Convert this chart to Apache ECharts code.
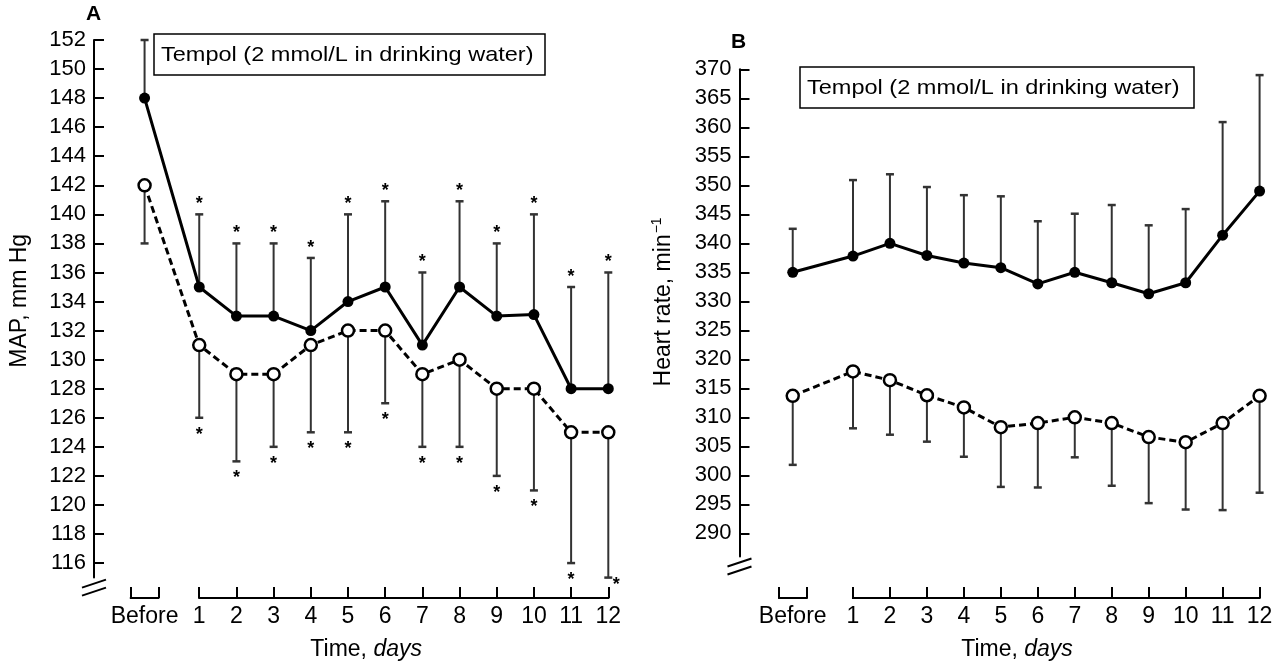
<!DOCTYPE html>
<html>
<head>
<meta charset="utf-8">
<script src="https://cdn.jsdelivr.net/npm/echarts@6/dist/echarts.min.js"></script>
<style>
html,body{margin:0;padding:0;background:#fff;}
#chart{width:1278px;height:668px;}
</style>
</head>
<body>
<div id="chart"></div>
<script>
// ---------------- DATA ----------------
const timeLabels = ['Before','1','2','3','4','5','6','7','8','9','10','11','12'];
const dayValues = [1,2,3,4,5,6,7,8,9,10,11,12];

// Panel A: MAP, mm Hg
const mapSolidMean  = [148,135,133,133,132,134,135,131,135,133,133.1,128,128];
const mapSolidUpper = [152,140,138,138,137,140,140.9,136,140.9,138,140,135,136];
const mapOpenMean   = [142,131,129,129,131,132,132,129,130,128,128,125,125];
const mapOpenLower  = [138,126,123,124,125,125,127,124,124,122,121,116,115];
// significance stars: 0 none, 1 star beyond the bar end, 2 star to the right
const mapSolidStars = [0,1,1,1,1,1,1,1,1,1,1,1,1];
const mapOpenStars  = [0,1,1,1,1,1,1,1,1,1,1,1,2];
const mapTicks = [116,118,120,122,124,126,128,130,132,134,136,138,140,142,144,146,148,150,152];

// Panel B: Heart rate, min^-1
const hrSolidMean  = [335,337.8,340,337.9,336.6,335.8,333,335,333.2,331.3,333.2,341.4,349];
const hrSolidUpper = [342.5,350.9,351.9,349.7,348.3,348.1,343.8,345.1,346.6,343.1,345.9,360.9,369];
const hrOpenMean   = [313.7,317.9,316.4,313.8,311.7,308.3,309,310,309,306.6,305.7,309,313.7];
const hrOpenLower  = [301.8,308.1,307,305.8,303.2,298,297.9,303.1,298.2,295.2,294.1,294,297];
const hrTicks = [290,295,300,305,310,315,320,325,330,335,340,345,350,355,360,365,370];

const boxText = 'Tempol (2 mmol/L in drinking water)';

// ---------------- LAYOUT ----------------
const FONT = '"Liberation Sans", Arial, Helvetica, sans-serif';
const P = {
  A: {grid:{left:94, top:40, width:514.3, height:537.6}, xMin:-1.83, yMin:115, yMax:152,
      beforeX:-0.47, bracket:[-0.84,-0.10], xOffset:20.4, nameShift:30, yNameShift:16, yNameGap:63},
  B: {grid:{left:739.5, top:69.3, width:520.1, height:487.2}, xMin:-2.07, yMin:286, yMax:370,
      beforeX:-0.63, bracket:[-1.0,-0.25], xOffset:41.5, nameShift:35, yNameShift:22, yNameGap:63}
};

function xPos(p){ return [p.beforeX].concat(dayValues); }
function pairs(xs, ys){ return ys.map((v,i)=>[xs[i], v]); }
function errData(xs, means, ends, stars){ return means.map((m,i)=>[xs[i], m, ends[i], stars ? stars[i] : 0]); }

function errRender(params, api){
  const x = api.value(0), m = api.value(1), b = api.value(2), star = api.value(3);
  const p0 = api.coord([x, m]);
  const p1 = api.coord([x, b]);
  const up = b > m;
  const children = [
    {type:'line', shape:{x1:p0[0], y1:p0[1], x2:p1[0], y2:p1[1]}, style:{stroke:'#333', lineWidth:2}},
    {type:'line', shape:{x1:p1[0]-4, y1:p1[1], x2:p1[0]+4, y2:p1[1]}, style:{stroke:'#333', lineWidth:2.5}}
  ];
  if (star === 1) {
    children.push({type:'text', style:{text:'*', x:p1[0], y: up ? p1[1]-10 : p1[1]+17,
      font:'bold 18px ' + FONT, align:'center', verticalAlign:'middle', fill:'#000'}});
  } else if (star === 2) {
    children.push({type:'text', style:{text:'*', x:p1[0]+8, y:p1[1]+7,
      font:'bold 18px ' + FONT, align:'center', verticalAlign:'middle', fill:'#000'}});
  }
  return {type:'group', children};
}

function axisLineRender(p){
  return function(params, api){
    const a = api.coord([api.value(0), p.yMin]);
    const b = api.coord([api.value(1), p.yMin]);
    return {type:'line', shape:{x1:a[0]-1, y1:a[1]+p.xOffset, x2:b[0]+1, y2:b[1]+p.xOffset},
      style:{stroke:'#000', lineWidth:2}};
  };
}
function breakRender(p){
  return function(params, api){
    const c = api.coord([p.xMin, p.yMin]);
    const mk = (dy)=>({type:'line', shape:{x1:c[0]-12, y1:c[1]+dy+4, x2:c[0]+12, y2:c[1]+dy-4},
      style:{stroke:'#000', lineWidth:2}});
    return {type:'group', children:[mk(6), mk(14)]};
  };
}

function xAxisCfg(p, gi){
  const ticks = p.bracket.concat(dayValues);
  const labels = [p.beforeX].concat(dayValues);
  return {
    type:'value', gridIndex:gi, min:p.xMin, max:12, offset:p.xOffset,
    axisLine:{show:false, onZero:false}, splitLine:{show:false},
    axisTick:{show:true, inside:true, length:11, customValues:ticks, lineStyle:{color:'#000', width:2}},
    axisLabel:{show:true, customValues:labels, margin:7, fontSize:23, color:'#000', fontFamily:FONT,
      formatter:(v)=> v < 0 ? timeLabels[0] : timeLabels[Math.round(v)]},
    name:'{n|Time, }{i|days}', nameLocation:'middle', nameGap:40,
    nameTextStyle:{padding:[0,0,0,p.nameShift], rich:{
      n:{fontSize:23, fontFamily:FONT, color:'#000'},
      i:{fontSize:23, fontFamily:FONT, color:'#000', fontStyle:'italic'}}}
  };
}
function yAxisCfg(p, gi, ticks, name, rich){
  return {
    type:'value', gridIndex:gi, min:p.yMin, max:p.yMax, position:'left',
    axisLine:{show:true, onZero:false, lineStyle:{color:'#000', width:2}}, splitLine:{show:false},
    axisTick:{show:true, inside:true, length:10, customValues:ticks, lineStyle:{color:'#000', width:2}},
    axisLabel:{show:true, customValues:ticks, margin:8, fontSize:22, color:'#000', fontFamily:FONT},
    name:name, nameLocation:'middle', nameGap:p.yNameGap, nameRotate:90,
    nameTextStyle:{padding:[0,0,0,p.yNameShift], fontSize:23, fontFamily:FONT, color:'#000', rich:rich}
  };
}

const xA = xPos(P.A), xB = xPos(P.B);

const lineSolid = {type:'line', symbol:'circle', symbolSize:11, z:4, clip:false,
  lineStyle:{color:'#000', width:3}, itemStyle:{color:'#000'}};
const lineOpen = {type:'line', symbol:'circle', symbolSize:12, z:4, clip:false,
  lineStyle:{color:'#000', width:3, type:[7,4]}, itemStyle:{color:'#fff', borderColor:'#000', borderWidth:2.5}};

const option = {
  animation:false,
  backgroundColor:'#fff',
  textStyle:{fontFamily:FONT},
  title:[
    {text:'A', left:86, top:4, padding:0, textStyle:{fontSize:21, fontWeight:'bold', color:'#000', fontFamily:FONT}},
    {text:'B', left:731, top:32, padding:0, textStyle:{fontSize:21, fontWeight:'bold', color:'#000', fontFamily:FONT}}
  ],
  grid:[
    Object.assign({containLabel:false}, P.A.grid),
    Object.assign({containLabel:false}, P.B.grid)
  ],
  xAxis:[xAxisCfg(P.A,0), xAxisCfg(P.B,1)],
  yAxis:[
    yAxisCfg(P.A,0,mapTicks,'MAP, mm Hg'),
    yAxisCfg(P.B,1,hrTicks,'{n|Heart rate, min}{s|−1}', {
      n:{fontSize:23, fontFamily:FONT, color:'#000', lineHeight:26},
      s:{fontSize:14, fontFamily:FONT, color:'#000', verticalAlign:'top', lineHeight:14, padding:[0,0,10,1]}})
  ],
  graphic:[
    {type:'rect', shape:{x:154, y:34, width:391, height:41}, style:{fill:'#fff', stroke:'#000', lineWidth:1.5}, z:10},
    {type:'text', x:161, y:55, scaleX:1.12, style:{text:boxText, font:'21px ' + FONT, verticalAlign:'middle', fill:'#000'}, z:11},
    {type:'rect', shape:{x:800, y:67, width:394, height:41}, style:{fill:'#fff', stroke:'#000', lineWidth:1.5}, z:10},
    {type:'text', x:807, y:88, scaleX:1.12, style:{text:boxText, font:'21px ' + FONT, verticalAlign:'middle', fill:'#000'}, z:11}
  ],
  series:[
    // Panel A
    {type:'custom', xAxisIndex:0, yAxisIndex:0, clip:false, z:2, renderItem:errRender, data:errData(xA, mapSolidMean, mapSolidUpper, mapSolidStars)},
    {type:'custom', xAxisIndex:0, yAxisIndex:0, clip:false, z:2, renderItem:errRender, data:errData(xA, mapOpenMean, mapOpenLower, mapOpenStars)},
    Object.assign({xAxisIndex:0, yAxisIndex:0, data:pairs(xA, mapSolidMean)}, lineSolid),
    Object.assign({xAxisIndex:0, yAxisIndex:0, data:pairs(xA, mapOpenMean)}, lineOpen),
    {type:'custom', xAxisIndex:0, yAxisIndex:0, clip:false, z:1, renderItem:axisLineRender(P.A), data:[P.A.bracket, [1,12]]},
    {type:'custom', xAxisIndex:0, yAxisIndex:0, clip:false, z:1, renderItem:breakRender(P.A), data:[[0,0]]},
    // Panel B
    {type:'custom', xAxisIndex:1, yAxisIndex:1, clip:false, z:2, renderItem:errRender, data:errData(xB, hrSolidMean, hrSolidUpper, null)},
    {type:'custom', xAxisIndex:1, yAxisIndex:1, clip:false, z:2, renderItem:errRender, data:errData(xB, hrOpenMean, hrOpenLower, null)},
    Object.assign({xAxisIndex:1, yAxisIndex:1, data:pairs(xB, hrSolidMean)}, lineSolid),
    Object.assign({xAxisIndex:1, yAxisIndex:1, data:pairs(xB, hrOpenMean)}, lineOpen),
    {type:'custom', xAxisIndex:1, yAxisIndex:1, clip:false, z:1, renderItem:axisLineRender(P.B), data:[P.B.bracket, [1,12]]},
    {type:'custom', xAxisIndex:1, yAxisIndex:1, clip:false, z:1, renderItem:breakRender(P.B), data:[[0,0]]}
  ]
};

const chart = echarts.init(document.getElementById('chart'), null, {renderer:'canvas'});
chart.setOption(option);
</script>
</body>
</html>
